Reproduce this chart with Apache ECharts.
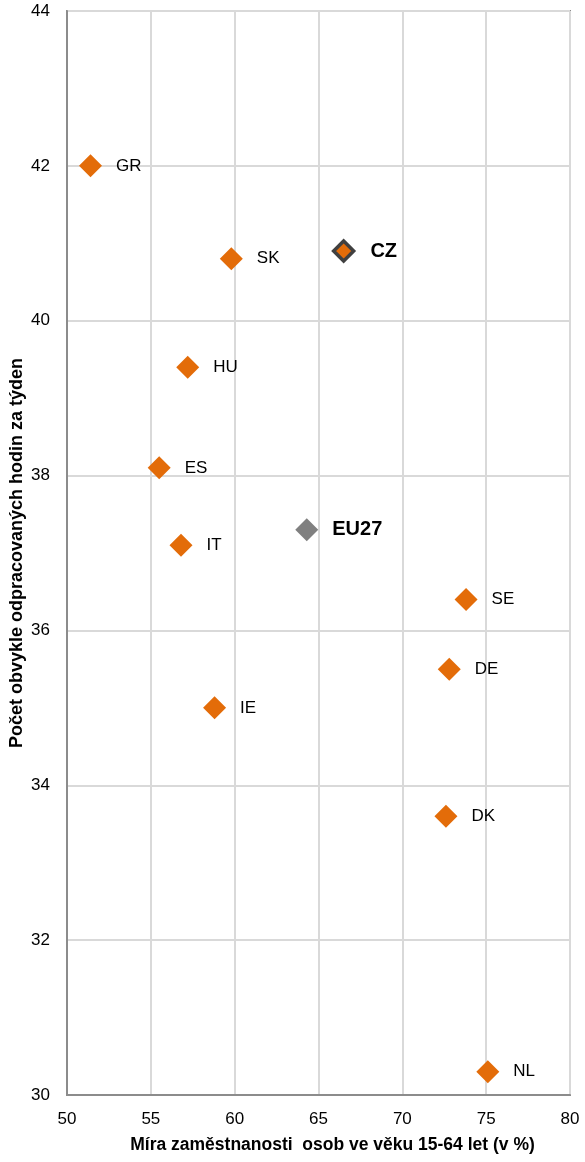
<!DOCTYPE html>
<html><head><meta charset="utf-8">
<script src="https://cdn.jsdelivr.net/npm/echarts@6/dist/echarts.min.js"></script>
<style>html,body{margin:0;padding:0;background:#fff}#c{width:585px;height:1162px}</style>
</head><body><div id="c"></div>
<script>
const countries = ["GR","SK","HU","ES","IT","SE","DE","IE","DK","NL"];
const employmentRate = [51.4, 59.8, 57.2, 55.5, 56.8, 73.8, 72.8, 58.8, 72.6, 75.1];
const weeklyHours = [42.0, 40.8, 39.4, 38.1, 37.1, 36.4, 35.5, 35.0, 33.6, 30.3];
const czPoint = {name: "CZ", x: 66.5, y: 40.9};
const euPoint = {name: "EU27", x: 64.3, y: 37.3};
const xTicks = {min: 50, max: 80, interval: 5};
const yTicks = {min: 30, max: 44, interval: 2};

const chart = echarts.init(document.getElementById('c'));
const font = '"Liberation Sans", Arial, sans-serif';
const orange = '#E36C09';
chart.setOption({
  animation: false,
  grid: {left: 67, right: 15, top: 11, bottom: 67, containLabel: false, outerBoundsMode: 'none', show: true, borderColor: '#8c8c8c', borderWidth: 2},
  xAxis: {
    type: 'value', min: xTicks.min, max: xTicks.max, interval: xTicks.interval,
    name: 'Míra zaměstnanosti  osob ve věku 15-64 let (v %)', nameLocation: 'middle', nameGap: 41,
    nameTextStyle: {fontFamily: font, fontWeight: 'bold', fontSize: 17.5, color: '#000', padding: [0, 0, 0, 28]},
    axisLine: {show: true, lineStyle: {color: '#8c8c8c', width: 2}},
    axisTick: {show: false},
    axisLabel: {fontFamily: font, fontSize: 17, color: '#000', margin: 16},
    splitLine: {show: true, lineStyle: {color: '#d9d9d9', width: 2}}
  },
  yAxis: {
    type: 'value', min: yTicks.min, max: yTicks.max, interval: yTicks.interval,
    name: 'Počet obvykle odpracovaných hodin za týden', nameLocation: 'middle', nameGap: 41, nameMoveOverlap: false,
    nameTextStyle: {fontFamily: font, fontWeight: 'bold', fontSize: 18, color: '#000'},
    axisLine: {show: true, lineStyle: {color: '#8c8c8c', width: 2}},
    axisTick: {show: false},
    axisLabel: {fontFamily: font, fontSize: 17, color: '#000', margin: 17},
    splitLine: {show: true, lineStyle: {color: '#d9d9d9', width: 2}}
  },
  series: [
    {
      type: 'scatter', symbol: 'diamond', symbolSize: 23,
      itemStyle: {color: orange, opacity: 1},
      label: {show: true, position: 'right', distance: 14, formatter: p => p.name, fontFamily: font, fontSize: 17, color: '#000'},
      data: countries.map((c, i) => ({name: c, value: [employmentRate[i], weeklyHours[i]]}))
    },
    {
      type: 'scatter', symbol: 'diamond', symbolSize: 23,
      itemStyle: {color: '#808080', opacity: 1},
      label: {show: true, position: 'right', distance: 14, formatter: p => p.name, fontFamily: font, fontSize: 20, fontWeight: 'bold', color: '#000'},
      data: [{name: euPoint.name, value: [euPoint.x, euPoint.y]}]
    },
    {
      type: 'scatter', symbol: 'diamond', symbolSize: 20,
      itemStyle: {color: orange, borderColor: '#404040', borderWidth: 3.5, opacity: 1},
      label: {show: true, position: 'right', distance: 15, formatter: p => p.name, fontFamily: font, fontSize: 20, fontWeight: 'bold', color: '#000'},
      data: [{name: czPoint.name, value: [czPoint.x, czPoint.y]}]
    }
  ]
});
</script></body></html>
